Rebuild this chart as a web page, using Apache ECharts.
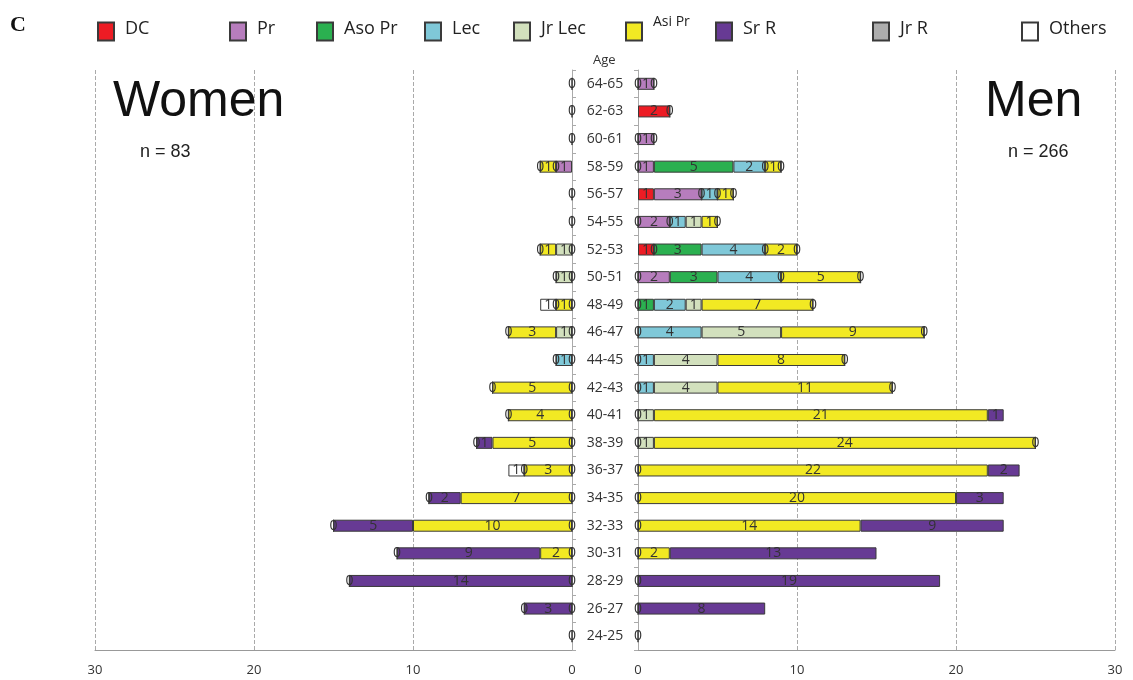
<!DOCTYPE html>
<html>
<head>
<meta charset="utf-8">
<script src="https://cdn.jsdelivr.net/npm/echarts@6/dist/echarts.min.js"></script>
<style>
  html, body { margin: 0; padding: 0; background: #fff; }
  #chart { width: 1133px; height: 680px; }
</style>
</head>
<body>
<div id="chart"></div>
<script>
// age groups, bottom (24-25) to top (64-65)
const ages = ['24-25','26-27','28-29','30-31','32-33','34-35','36-37','38-39','40-41','42-43',
  '44-45','46-47','48-49','50-51','52-53','54-55','56-57','58-59','60-61','62-63','64-65'];
const xTicks = [0, 10, 20, 30];

const names = ['DC', 'Pr', 'Aso Pr', 'Lec', 'Jr Lec', 'Asi Pr', 'Sr R', 'Jr R', 'Others'];
const colors = ['#ed1c24', '#b77dbd', '#2bb050', '#7fc8d8', '#d2e0bd', '#f2e923', '#673a94', '#adadad', '#ffffff'];

const _ = null;
// men, one array per rank (0 = label shown at that stack point, null = nothing)
const menDC     = [0,0,0,0,0,0,0,0,0,0,0,0,0,0,1,0,1,0,0,2,0];
const menPr     = [_,_,_,_,_,_,_,_,_,_,_,_,_,2,0,2,3,1,1,0,1];
const menAsoPr  = [_,_,_,_,_,_,_,_,_,_,_,_,1,3,3,0,0,5,0,_,0];
const menLec    = [_,_,_,_,_,_,_,_,_,1,1,4,2,4,4,1,1,2,_,_,_];
const menJrLec  = [_,_,_,_,_,_,_,1,1,4,4,5,1,0,0,1,0,0,_,_,_];
const menAsiPr  = [_,_,_,2,14,20,22,24,21,11,8,9,7,5,2,1,1,1,_,_,_];
const menSrR    = [_,8,19,13,9,3,2,0,1,0,0,0,0,0,0,0,0,0,_,_,_];
const menJrR    = [_,_,_,_,_,_,_,_,_,_,_,_,_,_,_,_,_,_,_,_,_];
const menOthers = [_,_,_,_,_,_,_,_,_,_,_,_,_,_,_,_,_,_,_,_,_];

// women
const womenDC     = [0,0,0,0,0,0,0,0,0,0,0,0,0,0,0,0,0,_,0,0,0];
const womenPr     = [_,_,_,_,_,_,_,_,_,_,_,_,_,_,_,_,_,1,_,_,_];
const womenAsoPr  = [_,_,_,_,_,_,_,_,_,_,_,_,_,_,_,_,_,0,_,_,_];
const womenLec    = [_,_,_,_,_,_,_,_,_,_,1,_,_,_,_,_,_,_,_,_,_];
const womenJrLec  = [_,_,_,_,_,_,_,_,_,_,0,1,_,1,1,_,_,_,_,_,_];
const womenAsiPr  = [_,_,_,2,10,7,3,5,4,5,_,3,1,0,1,_,_,1,_,_,_];
const womenSrR    = [_,3,14,9,5,2,0,1,0,0,_,0,0,_,0,_,_,0,_,_,_];
const womenJrR    = [_,0,0,0,0,0,_,0,_,_,_,_,_,_,_,_,_,_,_,_,_];
const womenOthers = [_,_,_,_,_,_,1,_,_,_,_,_,1,_,_,_,_,_,_,_,_];

const menData = [menDC, menPr, menAsoPr, menLec, menJrLec, menAsiPr, menSrR, menJrR, menOthers];
const womenData = [womenDC, womenPr, womenAsoPr, womenLec, womenJrLec, womenAsiPr, womenSrR, womenJrR, womenOthers];

const legendLeft = [92, 224, 311, 419, 508, 620, 710, 867, 1016];

const FONT = '"Open Sans", sans-serif';
const SANS = '"Liberation Sans", Arial, sans-serif';

function makeSeries(data, idx, side) {
  return data.map((vals, i) => ({
    name: names[i],
    type: 'bar',
    stack: side,
    xAxisIndex: idx,
    yAxisIndex: idx,
    barWidth: 12,
    data: vals,
    itemStyle: { color: colors[i], borderColor: '#3a3a3a', borderWidth: 1 },
    label: {
      show: true, position: 'inside', color: '#333',
      fontSize: 14, fontFamily: FONT,
      formatter: p => p.value
    },
    emphasis: { disabled: true }
  }));
}

const legends = names.map((n, i) => ({
  data: [n],
  left: legendLeft[i],
  top: n == 'Asi Pr' ? 10 : 15,
  itemWidth: 16,
  itemHeight: 18,
  icon: 'rect',
  selectedMode: false,
  // the Asi Pr label sits higher and smaller in the original
  formatter: n == 'Asi Pr' ? '{up|{name}}' : '{name}',
  textStyle: {
    fontSize: 18, color: '#222', fontFamily: FONT, padding: [0, 0, 5, 6],
    rich: { up: { fontSize: 14, color: '#222', fontFamily: FONT, padding: [0, 0, 14, 0] } }
  }
}));

const xAxisBase = {
  type: 'value', min: 0, max: 30, interval: 10,
  axisLine: { show: true, lineStyle: { color: '#999' } },
  axisTick: { show: false },
  axisLabel: { color: '#333', fontSize: 13, fontFamily: FONT, margin: 14 },
  splitLine: { show: true, lineStyle: { color: '#aaa', type: 'dashed' } }
};

const chart = echarts.init(document.getElementById('chart'));
chart.setOption({
  animation: false,
  legend: legends,
  grid: [
    { left: 95, right: 561, top: 70, bottom: 30 },
    { left: 638, right: 18, top: 70, bottom: 30 }
  ],
  xAxis: [
    Object.assign({ gridIndex: 0, inverse: true }, xAxisBase),
    Object.assign({ gridIndex: 1 }, xAxisBase)
  ],
  yAxis: [
    {
      type: 'category', gridIndex: 0, data: ages, position: 'right',
      axisLine: { lineStyle: { color: '#aaa' } },
      axisTick: { show: true, length: 4, lineStyle: { color: '#aaa' } },
      axisLabel: { align: 'center', margin: 33, color: '#333', fontSize: 14, fontFamily: FONT }
    },
    {
      type: 'category', gridIndex: 1, data: ages, position: 'left',
      axisLine: { lineStyle: { color: '#aaa' } },
      axisTick: { show: true, length: 4, lineStyle: { color: '#aaa' } },
      axisLabel: { show: false }
    }
  ],
  series: makeSeries(womenData, 0, 'women').concat(makeSeries(menData, 1, 'men')),
  graphic: [
    { type: 'text', left: 10, top: 14, style: { text: 'C', font: 'bold 22px "Liberation Serif", serif', fill: '#111' } },
    { type: 'text', left: 593, top: 54, style: { text: 'Age', font: '13px ' + FONT, fill: '#333' } },
    { type: 'text', left: 113, top: 77, style: { text: 'Women', font: '50px ' + SANS, fill: '#111' } },
    { type: 'text', left: 985, top: 77, style: { text: 'Men', font: '50px ' + SANS, fill: '#111' } },
    { type: 'text', left: 140, top: 143, style: { text: 'n = 83', font: '18px ' + SANS, fill: '#222' } },
    { type: 'text', left: 1008, top: 143, style: { text: 'n = 266', font: '18px ' + SANS, fill: '#222' } }
  ]
});
</script>
</body>
</html>
